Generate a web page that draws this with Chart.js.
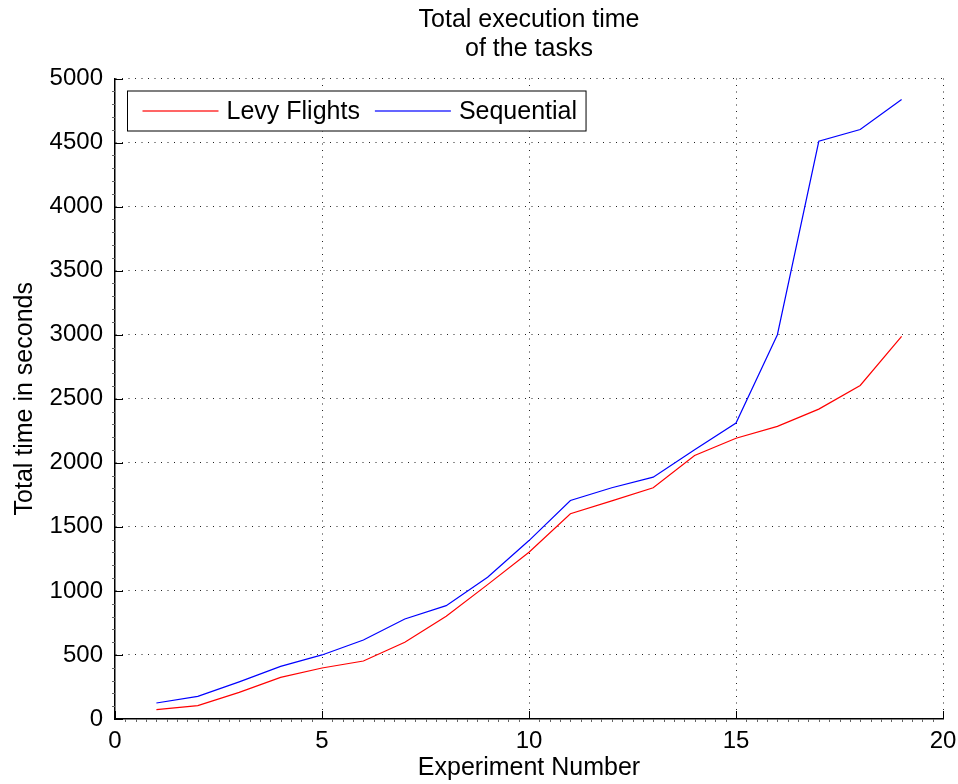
<!DOCTYPE html>
<html>
<head>
<meta charset="utf-8">
<script src="https://cdn.jsdelivr.net/npm/chart.js@4.4.0/dist/chart.umd.min.js"></script>
<style>
  html, body { margin: 0; padding: 0; background: #fff; }
  #wrap { width: 958px; height: 784px; }
</style>
</head>
<body>
<div id="wrap"><canvas id="chart" width="958" height="784"></canvas></div>
<script>
// experiment index and the two timing series (seconds)
var experiments = [1, 2, 3, 4, 5, 6, 7, 8, 9, 10, 11, 12, 13, 14, 15, 16, 17, 18, 19];
var levyFlights = [73, 104, 208, 325, 398, 453, 599, 802, 1049, 1302, 1602, 1703, 1805, 2057, 2192, 2284, 2419, 2604, 2987];
var sequential = [125, 177, 290, 411, 500, 617, 781, 885, 1106, 1393, 1706, 1805, 1888, 2101, 2310, 3000, 4510, 4602, 4836];
var seriesNames = ['Levy Flights', 'Sequential'];
var seriesColors = ['#ff0000', '#0000ff'];
var xTicks = [0, 5, 10, 15, 20];
var yTicks = [0, 500, 1000, 1500, 2000, 2500, 3000, 3500, 4000, 4500, 5000];

var FONT = '"Liberation Sans", Helvetica, Arial, sans-serif';
var TICK_SIZE = 24;
var TEXT_SIZE = 25;

function toPoints(ys) {
    return experiments.map(function (x, i) { return {x: x, y: ys[i]}; });
}

// inward major ticks + small minor ticks, matlab style
var axisTicks = {
    id: 'axisTicks',
    afterDraw: function (chart) {
        var c = chart.ctx, x = chart.scales.x, y = chart.scales.y;
        var area = chart.chartArea;
        c.save();
        c.strokeStyle = '#000';
        c.lineWidth = 1;
        c.beginPath();
        xTicks.forEach(function (v) {
            var px = Math.round(x.getPixelForValue(v)) + 0.5;
            c.moveTo(px, area.bottom);
            c.lineTo(px, area.bottom - 8);
        });
        yTicks.forEach(function (v) {
            var py = Math.round(y.getPixelForValue(v)) + 0.5;
            c.moveTo(area.left, py);
            c.lineTo(area.left + 8, py);
        });
        c.stroke();
        c.strokeStyle = '#666';
        c.beginPath();
        for (var m = 0.25; m < 20; m += 0.25) {
            if (m % 5 === 0) continue;
            var mx = Math.round(x.getPixelForValue(m)) + 0.5;
            c.moveTo(mx, area.bottom);
            c.lineTo(mx, area.bottom + 3);
        }
        for (var n = 100; n < 5000; n += 100) {
            if (n % 500 === 0) continue;
            var my = Math.round(y.getPixelForValue(n)) + 0.5;
            c.moveTo(area.left, my);
            c.lineTo(area.left - 3, my);
        }
        c.stroke();
        c.restore();
    }
};

// boxed legend in the upper left of the plot
var boxLegend = {
    id: 'boxLegend',
    afterDraw: function (chart) {
        var c = chart.ctx, area = chart.chartArea;
        c.save();
        c.font = TEXT_SIZE + 'px ' + FONT;
        var lineLen = 76, left = area.left + 12.5, top = area.top + 12.5, h = 40;
        var widths = seriesNames.map(function (name) { return c.measureText(name).width; });
        var w = 15;
        widths.forEach(function (tw, i) {
            w += lineLen + 8 + tw + (i < widths.length - 1 ? 15 : 9);
        });
        c.fillStyle = '#fff';
        c.fillRect(left, top, w, h);
        c.strokeStyle = '#000';
        c.lineWidth = 1;
        c.strokeRect(left, top, w, h);
        var cx = left + 15, cy = Math.round(top + h / 2);
        for (var i = 0; i < seriesNames.length; i++) {
            c.fillStyle = seriesColors[i];
            c.fillRect(cx, cy - 0.6, lineLen, 1.2);
            cx += lineLen + 8;
            c.fillStyle = '#000';
            c.textBaseline = 'middle';
            c.fillText(seriesNames[i], cx, cy + 1);
            cx += widths[i] + 15;
        }
        c.restore();
    }
};

function gridColor(c) {
    return c.tick && c.tick.value === 0 ? 'rgba(0,0,0,0)' : '#222';
}

var canvas = document.getElementById('chart');
var config = {
    type: 'line',
    data: {
        datasets: [
            {
                label: seriesNames[0],
                data: toPoints(levyFlights),
                borderColor: seriesColors[0],
                borderWidth: 1.2,
                pointRadius: 0,
                tension: 0,
                fill: false
            },
            {
                label: seriesNames[1],
                data: toPoints(sequential),
                borderColor: seriesColors[1],
                borderWidth: 1.2,
                pointRadius: 0,
                tension: 0,
                fill: false
            }
        ]
    },
    options: {
        responsive: false,
        animation: false,
        layout: {
            padding: {left: 0, right: 15, top: 0, bottom: 0}
        },
        plugins: {
            legend: {display: false},
            tooltip: {enabled: false},
            title: {
                display: true,
                fullSize: false,
                text: ['Total execution time', 'of the tasks'],
                color: '#000',
                font: {family: FONT, size: TEXT_SIZE, weight: 'normal', lineHeight: 1.15},
                padding: {top: 6, bottom: 15}
            }
        },
        scales: {
            x: {
                type: 'linear',
                min: 0,
                max: 20,
                afterBuildTicks: function (scale) {
                    scale.ticks = xTicks.map(function (v) { return {value: v}; });
                },
                afterFit: function (scale) {
                    scale.height = 65;
                    scale.paddingLeft = 0;
                    scale.paddingRight = 0;
                },
                ticks: {
                    color: '#000',
                    font: {family: FONT, size: TICK_SIZE},
                    padding: 8,
                    maxRotation: 0,
                    callback: function (v) { return String(v); }
                },
                grid: {color: gridColor, lineWidth: 1, drawTicks: false},
                border: {display: true, color: '#000', width: 1.5, dash: [1, 5.5]},
                title: {
                    display: true,
                    text: 'Experiment Number',
                    color: '#000',
                    font: {family: FONT, size: TEXT_SIZE},
                    padding: {top: 0, bottom: 1}
                }
            },
            y: {
                type: 'linear',
                min: 0,
                max: 5000,
                afterBuildTicks: function (scale) {
                    scale.ticks = yTicks.map(function (v) { return {value: v}; });
                },
                afterFit: function (scale) { scale.width = 115; },
                ticks: {
                    color: '#000',
                    font: {family: FONT, size: TICK_SIZE},
                    padding: 12,
                    callback: function (v) { return String(v); }
                },
                grid: {color: gridColor, lineWidth: 1, drawTicks: false},
                border: {display: true, color: '#000', width: 1.5, dash: [1, 5.5]},
                title: {
                    display: true,
                    text: 'Total time in seconds',
                    color: '#000',
                    font: {family: FONT, size: TEXT_SIZE},
                    padding: 10
                }
            }
        }
    },
    plugins: [axisTicks, boxLegend]
};
new Chart(canvas, config);
</script>
</body>
</html>
